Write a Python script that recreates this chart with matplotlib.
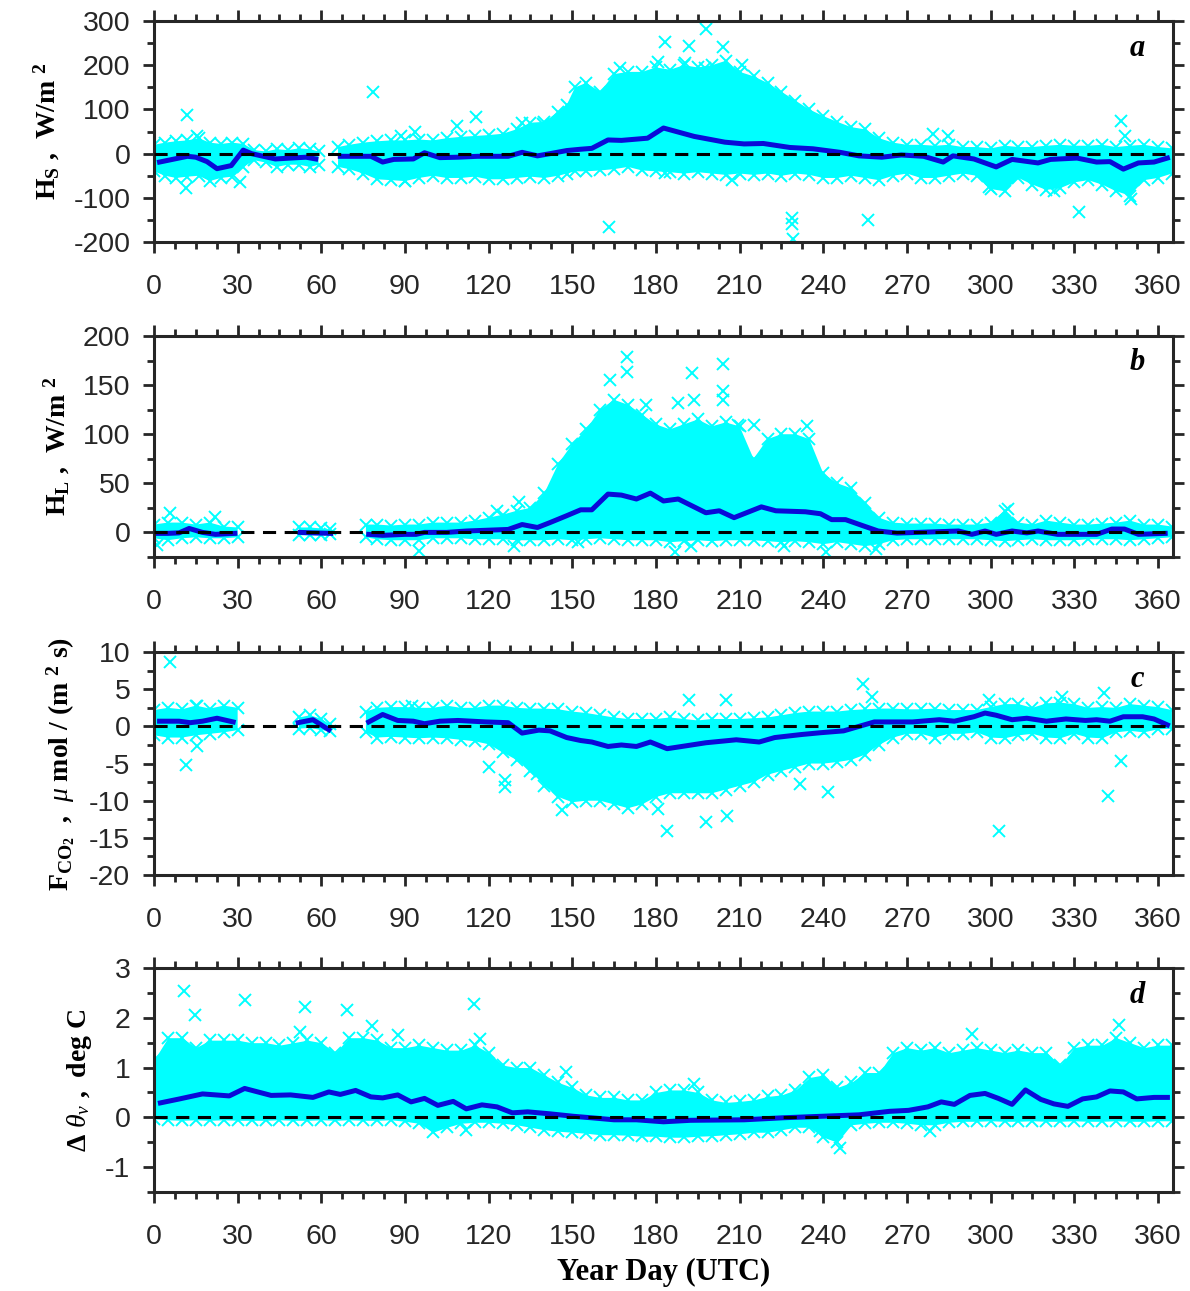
import numpy as np
import matplotlib
matplotlib.use('Agg')
import matplotlib.pyplot as plt
from matplotlib.ticker import MultipleLocator

nan = np.nan

# ---------------- Panel a : H_S (W/m^2) ----------------
a_env_day = [0, 4, 8, 12, 16, 20, 24, 28, 32, 36, 40, 44, 48, 52, 56, 59, 62, 66, 70,
             75, 80, 85, 90, 95, 100, 105, 110, 115, 120, 125, 130, 135, 140, 145, 148, 151,
             155, 160, 165, 170, 175, 180, 185, 190, 195, 200, 205, 210, 215, 220, 225, 230,
             235, 240, 245, 250, 255, 260, 265, 270, 275, 280, 285, 290, 295, 300, 305, 310,
             315, 320, 325, 330, 335, 340, 345, 350, 355, 360, 365]
a_env_hi = [20, 25, 28, 30, 35, 25, 22, 25, 22, 8, 5, 10, 8, 12, 10, 5, nan, 15, 20,
            25, 28, 30, 30, 32, 30, 35, 38, 40, 42, 45, 55, 70, 72, 95, 110, 150,
            160, 140, 180, 185, 185, 195, 190, 200, 195, 200, 210, 185, 175, 160, 140, 120,
            100, 85, 72, 60, 55, 35, 25, 20, 20, 18, 20, 15, 15, 12, 18, 15,
            15, 18, 20, 18, 18, 20, 15, 18, 20, 15, 12]
a_env_lo = [-40, -50, -55, -52, -50, -62, -55, -52, -30, -15, -20, -30, -25, -25, -30, -25, nan, -30, -35,
            -45, -58, -60, -62, -55, -50, -55, -55, -52, -58, -58, -55, -52, -55, -50, -45, -40,
            -40, -38, -35, -30, -38, -40, -42, -45, -42, -45, -48, -45, -48, -45, -50, -45,
            -48, -55, -55, -50, -55, -60, -50, -45, -55, -55, -50, -45, -50, -80, -85, -55,
            -70, -82, -78, -65, -60, -70, -85, -95, -60, -55, -45]
a_mean_day = [2, 12, 15, 19, 22.6, 27.7, 32, 35, 43.5, 49, 54.5, 58, 62,
              66.8, 77.8, 82, 86, 93, 97, 102.5, 109, 116, 127, 132, 137.5, 142, 148, 153, 157,
              162.8, 167.6, 177, 182.7, 193.7, 204.7, 211.6, 218.5, 228, 236.3, 246, 252.8, 261,
              268, 276, 283, 286.5, 294, 302, 307.7, 317, 321.5, 331, 338, 342.8, 347.6, 353,
              358.6, 363.4]
a_mean_val = [-19, -6, -8, -18, -34, -27, 8, 0, -12, -10, -8, -12, nan,
              -6, -6, -19, -13, -12, 2, -9, -8, -6, -6, 3, -5, 0, 7, 10, 12,
              31, 30, 35, 58, 39, 26, 22, 23, 14, 11, 3, -5, -8,
              -3, -6, -19, -5, -12, -30, -13, -21, -13, -10, -19, -18, -35, -21,
              -19, -10]
a_out_day = [11.7, 78.5, 11.5, 15.4, 30.9, 115.5, 108.6, 93.6, 88.7, 132, 139.5, 90,
             197.9, 183.4, 191.7, 204, 190.3, 197.6, 180.7, 211, 167, 163.2, 183.4, 207.2,
             228.8, 228.8, 229, 256.2, 279.2, 284.7, 346.9, 348.3, 331.8, 350.3, 299.5, 322.9]
a_out_val = [88, 139, -77, 39, -65, 83, 62, 48, 39, 69, 68, -62,
             283, 253, 244, 242, 205, 193, 208, 201, 193, -166, -44, -60,
             -145, -160, -192, -150, 44, 39, 75, 39, -131, -103, -75, -85]

# ---------------- Panel b : H_L (W/m^2) ----------------
bc_env_day = [0, 5, 10, 15, 20, 25, 30, 40, 52, 56, 60, 63, 70, 76,
              80, 85, 90, 95, 100, 105, 110, 115, 120, 125, 130, 135, 140, 145, 150, 155,
              160, 165, 170, 175, 180, 185, 190, 195, 200, 205, 210, 215, 220, 225, 230, 235,
              240, 245, 250, 255, 260, 265, 270, 275, 280, 285, 290, 295, 300, 305, 310, 315,
              320, 325, 330, 335, 340, 345, 350, 355, 360, 365]
b_env_hi = [8, 10, 10, 8, 10, 6, 5, nan, 5, 5, 4, 3, nan, 8,
            8, 7, 8, 8, 10, 10, 10, 12, 15, 18, 22, 25, 40, 70, 90, 105,
            125, 135, 130, 120, 110, 105, 110, 115, 108, 112, 108, 75, 95, 100, 100, 95,
            60, 50, 45, 30, 15, 10, 9, 9, 9, 8, 8, 8, 10, 22, 10, 8,
            12, 10, 8, 8, 9, 10, 12, 8, 8, 6]
b_env_lo = [-6, -8, -6, -5, -6, -6, -5, nan, -3, -3, -3, -2, nan, -5,
            -7, -8, -8, -8, -6, -6, -6, -7, -7, -7, -8, -8, -8, -7, -8, -7,
            -6, -7, -8, -8, -8, -10, -9, -8, -9, -8, -8, -8, -9, -10, -9, -10,
            -12, -10, -12, -14, -12, -8, -7, -7, -7, -7, -7, -7, -8, -9, -8, -7,
            -8, -8, -8, -7, -7, -7, -8, -7, -6, -5]
b_mean_day = [1, 5, 9, 12.6, 17.4, 22, 29, 40, 52.4, 57, 63.4, 70,
              77, 82, 90, 94, 97, 105, 112, 127, 132, 137.5, 142, 148, 153, 157,
              162.8, 167.6, 173, 178, 182.7, 188, 197.9, 202.7, 208, 217.8, 223, 233.6, 239,
              243, 248, 254, 259.7, 266.5, 288.5, 293.3, 298, 302, 307.7, 313, 317, 324, 338,
              343.5, 348, 353, 362.6]
b_mean_val = [-1, -1, -0.5, 4, 0, -2, -1, nan, 0, -0.5, -1, nan,
              -2, -3, -2, -2, 0, 0, 1.4, 3, 8, 5, 10, 17, 23, 23,
              39, 38, 34, 40, 32, 34, 20, 22, 15, 26, 22, 21, 19,
              13, 13, 7, 1.4, -0.7, 1.4, -2, 1.4, -2, 1.4, -0.5, 1.4, -2, -2,
              3.4, 3.4, -2, -1]
b_out_day = [5.8, 22, 1, 95, 129, 152, 123, 131,
             169.7, 169.7, 163.5, 204, 193, 193.5, 188, 176.6, 204, 204, 215, 209.5, 234.3,
             186.9, 192.4, 226, 241, 259, 306.4]
b_out_val = [20, 16, -13, -18.6, -14, -9.5, 22, 31,
             179, 163, 155, 172, 162, 135, 132, 130, 144, 135, 109, 109, 108,
             -20, -13.5, -13.5, -19.6, -17, 24]

# ---------------- Panel c : F_CO2 (umol/(m^2 s)) ----------------
c_env_hi = [2.2, 2.5, 2.3, 2.8, 2.4, 2.8, 2.5, nan, 1.2, 1.5, 1.0, 0.3, nan, 2.0,
            2.5, 2.6, 2.6, 2.5, 2.5, 2.8, 2.5, 2.5, 2.8, 2.8, 2.5, 2.4, 2.4, 2.3, 2.0, 1.8,
            1.5, 1.2, 1.0, 1.0, 1.0, 1.2, 1.0, 0.8, 1.0, 1.0, 1.0, 1.1, 1.2, 1.5, 1.8, 2.0,
            2.0, 2.0, 2.2, 2.3, 2.4, 2.4, 2.3, 2.3, 2.4, 2.2, 2.2, 2.2, 2.6, 3.0, 3.0, 2.5,
            3.1, 3.2, 3.0, 2.5, 2.6, 2.5, 3.0, 2.8, 2.6, 2.2]
c_env_lo = [-1.2, -1.5, -1.5, -1.2, -1.0, -0.8, -0.5, nan, -0.3, -0.2, -0.5, -0.6, nan, -0.8,
            -1.5, -1.4, -1.5, -1.6, -1.5, -1.6, -1.8, -2.0, -2.4, -3.5, -4.5, -6.0, -8.0, -9.5, -10.2, -10.0,
            -10.0, -10.5, -11.0, -10.5, -9.5, -9.0, -9.0, -9.0, -9.0, -8.5, -8.0, -7.5, -6.5, -6.0, -5.5, -5.0,
            -5.0, -4.8, -4.5, -3.8, -2.5, -1.5, -1.0, -1.0, -1.5, -1.0, -1.0, -0.8, -1.5, -1.6, -1.2, -1.0,
            -1.5, -1.6, -1.0, -1.5, -1.6, -0.8, -0.6, -0.8, -0.4, -0.3]
c_mean_day = [2, 9, 13, 17.4, 22.6, 28.4, 40, 51.7, 57, 62.7, 70,
              77, 82, 87.4, 93, 97, 102.5, 109, 119, 127, 132, 138, 142, 148, 153, 157,
              162.8, 167.6, 173, 178, 184, 191, 197.9, 208.8, 217, 222.6, 232, 239, 247.3,
              252.8, 258.3, 272, 281.6, 287, 294, 298, 302, 307.7, 313, 320, 327, 334, 338,
              342.8, 347.6, 354.5, 358.6, 363.4]
c_mean_val = [0.7, 0.7, 0.5, 0.7, 1.1, 0.6, nan, 0.5, 0.9, -0.45, nan,
              0.6, 1.6, 0.8, 0.7, 0.36, 0.7, 0.8, 0.6, 0.5, -0.9, -0.5, -0.6, -1.5, -1.9, -2.1,
              -2.7, -2.5, -2.7, -2.1, -3.0, -2.6, -2.2, -1.8, -2.1, -1.5, -1.1, -0.85, -0.6,
              0, 0.6, 0.6, 0.9, 0.7, 1.3, 1.8, 1.5, 0.9, 1.1, 0.7, 1.0, 0.8, 0.9,
              0.7, 1.3, 1.3, 1.0, 0.2]
c_out_day = [5.8, 11.5, 15.4, 15.4, 120.3, 125.8, 125.8, 146.4, 137.4, 92.6,
             254.4, 257.6, 191.7, 205, 184, 197.9, 205.4, 180.7, 231.5, 241.8,
             303, 342, 346.6, 299.5, 340.6, 325.5]
c_out_val = [8.7, -5.2, 2.7, -2.7, -5.5, -7.2, -8.2, -11.3, -6.4, 2.7,
             5.7, 4.0, 3.5, 3.6, -14.1, -12.9, -12.0, -11.1, -7.8, -8.8,
             -14.1, -9.4, -4.7, 3.6, 4.5, 3.9]

# ---------------- Panel d : delta theta_v (deg C) ----------------
d_env_day = list(range(0, 366, 5))
d_env_hi = [1.15, 1.6, 1.6, 1.4, 1.55, 1.55, 1.55, 1.5, 1.5, 1.45, 1.5, 1.55, 1.5, 1.3, 1.6,
            1.6, 1.55, 1.4, 1.4, 1.45, 1.4, 1.35, 1.35, 1.45, 1.3, 1.05, 1.0, 1.0, 0.85, 0.7,
            0.6, 0.45, 0.4, 0.4, 0.35, 0.35, 0.5, 0.55, 0.55, 0.5, 0.35, 0.3, 0.32, 0.35, 0.42,
            0.45, 0.55, 0.8, 0.85, 0.6, 0.7, 0.9, 0.9, 1.3, 1.4, 1.35, 1.4, 1.3, 1.35, 1.4,
            1.35, 1.3, 1.35, 1.3, 1.3, 1.05, 1.4, 1.45, 1.45, 1.6, 1.5, 1.4, 1.45, 1.45]
d_env_lo = [-0.03, -0.05, -0.06, -0.05, -0.06, -0.05, -0.06, -0.06, -0.06, -0.05, -0.06, -0.06,
            -0.05, -0.06, -0.05, -0.06, -0.06, -0.05, -0.08, -0.12, -0.3, -0.2, -0.12, -0.1,
            -0.1, -0.12, -0.15, -0.2, -0.25, -0.28, -0.3, -0.32, -0.35, -0.35, -0.36, -0.38,
            -0.38, -0.4, -0.4, -0.38, -0.37, -0.35, -0.33, -0.3, -0.3, -0.25, -0.2, -0.2,
            -0.4, -0.5, -0.15, -0.12, -0.1, -0.1, -0.12, -0.15, -0.15, -0.1, -0.08, -0.08,
            -0.07, -0.08, -0.08, -0.07, -0.08, -0.08, -0.07, -0.08, -0.08, -0.07, -0.08,
            -0.08, -0.07, -0.07]
d_mean_day = [2.3, 9.2, 17.4, 27, 32.5, 42, 49, 57, 62.7, 66.8, 72.3, 77.8, 82, 87.4, 92.2,
              97, 101.8, 107.3, 112, 117.6, 123, 128.5, 134, 142, 150.5, 157,
              165, 173, 182.7, 192.4, 211.6, 225.3, 239, 252.8, 263.7, 270.6, 277.5, 282.3,
              287, 292.6, 298, 302.8, 307.7, 312.5, 318, 322.7, 327.7, 333, 338, 342.8,
              347.6, 352.4, 358.6, 363.4]
d_mean_val = [0.29, 0.37, 0.47, 0.43, 0.58, 0.44, 0.45, 0.40, 0.51, 0.46, 0.54, 0.41, 0.39,
              0.45, 0.31, 0.38, 0.24, 0.32, 0.17, 0.25, 0.21, 0.09, 0.11, 0.07, 0.02, -0.01,
              -0.05, -0.05, -0.09, -0.06, -0.05, -0.01, 0.02, 0.05, 0.12, 0.14, 0.21, 0.31,
              0.26, 0.44, 0.48, 0.38, 0.26, 0.55, 0.36, 0.27, 0.22, 0.37, 0.41, 0.53,
              0.51, 0.37, 0.40, 0.40]
d_out_day = [10.6, 14.7, 32.5, 54, 69.1, 114.8, 78, 87.4, 116.9, 147.7, 112, 52.4,
             193.7, 293.3, 346.2, 278.2, 245.9, 239]
d_out_val = [2.53, 2.06, 2.36, 2.22, 2.15, 2.27, 1.83, 1.65, 1.58, 0.91, -0.25, 1.71,
             0.66, 1.68, 1.85, -0.28, -0.62, -0.28]

# ---------------- axis settings ----------------
xticks = list(range(0, 361, 30))
a_yticks = [-200, -100, 0, 100, 200, 300]
b_yticks = [0, 50, 100, 150, 200]
c_yticks = [-20, -15, -10, -5, 0, 5, 10]
d_yticks = [-1, 0, 1, 2, 3]

plt.rcParams['mathtext.fontset'] = 'custom'
plt.rcParams['mathtext.rm'] = 'Liberation Serif:bold'
plt.rcParams['mathtext.bf'] = 'Liberation Serif:bold'
plt.rcParams['mathtext.it'] = 'Liberation Serif:italic'
plt.rcParams['axes.unicode_minus'] = False

AXC = '#262626'
CYAN = '#00ffff'
BLUE = '#0a0ad8'

fig = plt.figure(figsize=(11.9, 12.91), dpi=100)
L, W = 0.1294, 0.8563
boxes = [(0.8125, 0.1712), (0.5686, 0.1711), (0.3222, 0.1727), (0.0767, 0.1735)]

panels = [
    dict(env_day=a_env_day, hi=a_env_hi, lo=a_env_lo, mday=a_mean_day, mval=a_mean_val,
         oday=a_out_day, oval=a_out_val, ylim=(-200, 300), yticks=a_yticks, minor=50,
         ylabel=r'H$_{\mathrm{S}}$ ,  W/m $^{\mathrm{2}}$', tag='a'),
    dict(env_day=bc_env_day, hi=b_env_hi, lo=b_env_lo, mday=b_mean_day, mval=b_mean_val,
         oday=b_out_day, oval=b_out_val, ylim=(-25, 200), yticks=b_yticks, minor=25,
         ylabel=r'H$_{\mathrm{L}}$ ,  W/m $^{\mathrm{2}}$', tag='b'),
    dict(env_day=bc_env_day, hi=c_env_hi, lo=c_env_lo, mday=c_mean_day, mval=c_mean_val,
         oday=c_out_day, oval=c_out_val, ylim=(-20, 10), yticks=c_yticks, minor=2.5,
         ylabel=r'F$_{\mathrm{CO}_{\mathrm{2}}}$  ,  $\mu$ mol / (m $^{\mathrm{2}}$ s)', tag='c'),
    dict(env_day=d_env_day, hi=d_env_hi, lo=d_env_lo, mday=d_mean_day, mval=d_mean_val,
         oday=d_out_day, oval=d_out_val, ylim=(-1.5, 3), yticks=d_yticks, minor=0.5,
         ylabel=r'$\Delta$ $\theta_{v}$ ,  deg C', tag='d'),
]

for (bot, h), p in zip(boxes, panels):
    ax = fig.add_axes([L, bot, W, h])
    ed = np.array(p['env_day'], float)
    hi = np.array(p['hi'], float)
    lo = np.array(p['lo'], float)
    ax.fill_between(ed, lo, hi, color=CYAN, lw=0, zorder=1)
    mk = dict(ls='none', marker='x', color=CYAN, ms=8, mew=1.4, zorder=1)
    ax.plot(ed, hi, **mk)
    ax.plot(ed, lo, **mk)
    ax.plot(p['oday'], p['oval'], **mk)
    ax.plot(p['mday'], p['mval'], color=BLUE, lw=3.6, zorder=2, solid_joinstyle='round')
    ax.axhline(0, color='black', lw=2.2, ls=(0, (4.3, 2.8)), zorder=3)

    ax.set_xlim(0, 365.4)
    ax.set_ylim(*p['ylim'])
    ax.set_xticks(xticks)
    ax.set_yticks(p['yticks'])
    ax.xaxis.set_minor_locator(MultipleLocator(7.5))
    ax.yaxis.set_minor_locator(MultipleLocator(p['minor']))
    ax.tick_params(which='both', direction='out', top=True, right=True, color=AXC,
                   width=2.0, labelcolor=AXC, labelsize=20.5)
    ax.tick_params(which='major', length=8)
    ax.tick_params(which='minor', length=5)
    ax.tick_params(axis='x', which='major', pad=15)
    ax.tick_params(axis='y', which='major', pad=9)
    for lab in ax.get_xticklabels() + ax.get_yticklabels():
        lab.set_fontfamily('Liberation Sans')
    for s in ax.spines.values():
        s.set_linewidth(2.2)
        s.set_color(AXC)
    ax.set_ylabel(p['ylabel'], fontsize=20, fontfamily='Liberation Serif',
                  fontweight='bold', labelpad=8)
    ax.text(0.965, 0.878, p['tag'], transform=ax.transAxes, ha='center', va='center',
            fontsize=22, fontfamily='Liberation Serif', fontweight='bold', style='italic')
    if p['tag'] == 'd':
        ax.set_xlabel('Year Day (UTC)', fontsize=22, fontfamily='Liberation Serif',
                      fontweight='bold', labelpad=6)

fig.savefig('out.png', dpi=100)
